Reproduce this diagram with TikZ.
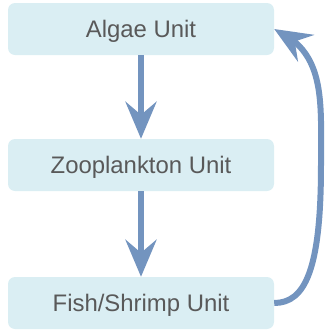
\documentclass[tikz,border=0pt]{standalone}
\usepackage{fontspec}
\setmainfont{Liberation Sans}
\usetikzlibrary{arrows.meta,bending}
\definecolor{boxfill}{HTML}{DAEEF3}
\definecolor{flowblue}{HTML}{7394BF}
\definecolor{labelgray}{HTML}{595959}
\tikzset{
  unitbox/.style={fill=boxfill, rounded corners=7pt, minimum width=266pt,
    minimum height=52pt, inner sep=0pt, text=labelgray,
    font=\fontsize{23.9pt}{26pt}\selectfont, text height=17pt, text depth=0pt},
  flow/.style={draw=flowblue, line width=6pt,
    -{Stealth[length=37pt, width=31pt, inset=13pt]}}
}
\begin{document}
\begin{tikzpicture}[x=1pt, y=-1pt]
  \useasboundingbox (0,0) rectangle (329,330);
  \node[unitbox] (algae) at (141,29) {Algae Unit};
  \node[unitbox] (zoo) at (141,165) {Zooplankton Unit};
  \node[unitbox] (fish) at (141,303) {Fish/Shrimp Unit};
  \draw[flow] (algae.south) -- (zoo.north);
  \draw[flow] (zoo.south) -- (fish.north);
  % return flow from the fish unit back up to the algae unit
  \draw[flow] (fish.east) .. controls (305,303) and (321,270) .. (321,165)
    .. controls (321,100) and (326,52) .. (algae.east);
\end{tikzpicture}
\end{document}
